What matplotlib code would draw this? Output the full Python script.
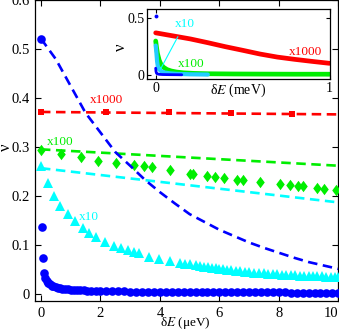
import matplotlib
matplotlib.use('Agg')
import matplotlib.pyplot as plt
from matplotlib.path import Path

plt.rcParams['font.family'] = ['Liberation Serif', 'DejaVu Serif']
plt.rcParams['mathtext.fontset'] = 'stix'

# ---------------- main panel data (delta E in ueV) ----------------
red_x = [0, 2.18, 4.31, 6.39, 8.45]
red_y = [0.372, 0.372, 0.371, 0.369, 0.368]
red_fit_x = [0, 10]
red_fit_y = [0.372, 0.367]

green_x = [0, 0.68, 1.34, 1.93, 2.54, 3.14, 3.48, 3.75, 4.34, 5.02, 5.11, 5.58,
           5.86, 6.17, 6.61, 6.79, 7.37, 8.04, 8.39, 8.66, 8.80, 9.30, 9.51, 9.91]
green_y = [0.294, 0.287, 0.280, 0.272, 0.268, 0.263, 0.261, 0.259, 0.253, 0.246,
           0.246, 0.242, 0.239, 0.237, 0.233, 0.233, 0.229, 0.225, 0.222, 0.220,
           0.220, 0.216, 0.214, 0.212]
green_fit_x = [0, 10]
green_fit_y = [0.2955, 0.262]

cyan_x = [0, 0.25, 0.44, 0.64, 0.9, 1.15, 1.41, 1.63, 1.86, 2.17, 2.44, 2.70,
          2.94, 3.14, 3.31, 3.62, 3.98, 4.35, 4.68, 4.85, 5.0, 5.2, 5.35, 5.5,
          5.62, 5.75, 5.88, 6.0, 6.12, 6.25, 6.4, 6.55, 6.7, 6.85, 7.0, 7.15,
          7.32, 7.5, 7.65, 7.8, 7.95, 8.1, 8.25, 8.4, 8.55, 8.7, 8.85, 9.0,
          9.15, 9.3, 9.45, 9.6, 9.75, 9.9, 10.0]
cyan_y = [0.262, 0.226, 0.200, 0.180, 0.163, 0.149, 0.134, 0.125, 0.116, 0.107,
          0.098, 0.094, 0.089, 0.086, 0.083, 0.076, 0.071, 0.068, 0.063, 0.061,
          0.060, 0.058, 0.057, 0.055, 0.054, 0.053, 0.052, 0.051, 0.050, 0.049,
          0.048, 0.047, 0.046, 0.045, 0.044, 0.043, 0.043, 0.042, 0.041, 0.040,
          0.040, 0.039, 0.039, 0.038, 0.038, 0.037, 0.037, 0.037, 0.036, 0.036,
          0.036, 0.035, 0.035, 0.035, 0.035]
cyan_fit_x = [0, 10]
cyan_fit_y = [0.257, 0.187]

blue_x = [0, 0.03, 0.07, 0.11, 0.15, 0.2, 0.25, 0.3, 0.36, 0.42, 0.49, 0.56,
          0.64, 0.72, 0.81, 0.9, 1.0, 1.1, 1.2, 1.32, 1.44, 1.56, 1.7, 1.85,
          2.0, 2.2, 2.4, 2.6, 2.8, 3.0, 3.2, 3.4, 3.6, 3.8, 4.0, 4.2, 4.4, 4.6,
          4.8, 5.0, 5.2, 5.4, 5.6, 5.8, 6.0, 6.2, 6.4, 6.6, 6.8, 7.0, 7.2, 7.4,
          7.6, 7.8, 8.0, 8.2, 8.4, 8.6, 8.8, 9.0, 9.2, 9.4, 9.6, 9.8, 10.0]
blue_y = [0.522, 0.136, 0.073, 0.043, 0.033, 0.027, 0.023, 0.020, 0.017, 0.015,
          0.0135, 0.012, 0.011, 0.010, 0.0095, 0.009, 0.0085, 0.008, 0.0077,
          0.0073, 0.007, 0.0067, 0.0064, 0.0061, 0.0058, 0.0055, 0.0052, 0.005,
          0.0048, 0.0046, 0.0044, 0.0042, 0.004, 0.0039, 0.0038, 0.0037, 0.0036,
          0.0035, 0.0034, 0.0033, 0.0032, 0.0032, 0.0031, 0.0031, 0.003, 0.003,
          0.003, 0.0029, 0.0029, 0.0029, 0.0028, 0.0028, 0.0028, 0.0027, 0.0027,
          0.0027, 0.0026, 0.0026, 0.0026, 0.0026, 0.0025, 0.0025, 0.0025, 0.0025,
          0.0025]
blue_fit_x = [0, 0.5, 1, 1.5, 2, 2.5, 3, 3.5, 4, 4.5, 5, 5.5, 6, 6.5, 7, 7.5,
              8, 8.5, 9, 9.5, 10]
blue_fit_y = [0.522, 0.48, 0.425, 0.37, 0.33, 0.29, 0.262, 0.233, 0.208, 0.185,
              0.163, 0.147, 0.131, 0.118, 0.105, 0.094, 0.084, 0.074, 0.065,
              0.058, 0.051]

main_xticks = [0, 2, 4, 6, 8, 10]
main_yticks = [0, 0.1, 0.2, 0.3, 0.4, 0.5, 0.6]
main_yticklabels = ['0', '0.1', '0.2', '0.3', '0.4', '0.5', '0.6']

# ---------------- inset data (delta E in meV) ----------------
in_red_x = [0, 0.1, 0.2, 0.3, 0.4, 0.5, 0.6, 0.7, 0.8, 0.9, 1.0]
in_red_y = [0.372, 0.345, 0.318, 0.285, 0.25, 0.218, 0.185, 0.158, 0.138, 0.12, 0.103]
in_green_x = [0, 0.005, 0.01, 0.02, 0.03, 0.045, 0.065, 0.09, 0.12, 0.16, 0.22,
              0.3, 0.45, 0.6, 0.8, 1.0]
in_green_y = [0.30, 0.24, 0.19, 0.13, 0.095, 0.068, 0.048, 0.035, 0.026, 0.019,
              0.014, 0.011, 0.009, 0.008, 0.007, 0.007]
in_cyan_x = [0, 0.004, 0.008, 0.012, 0.02, 0.03, 0.05, 0.08, 0.12, 0.2, 0.3]
in_cyan_y = [0.26, 0.2, 0.12, 0.08, 0.05, 0.035, 0.022, 0.015, 0.01, 0.006, 0.004]
in_blue_x = [0, 0.002, 0.005, 0.01, 0.02, 0.04, 0.08, 0.15]
in_blue_y = [0.06, 0.03, 0.015, 0.01, 0.006, 0.004, 0.003, 0.002]
in_blue_pt_x = [0]
in_blue_pt_y = [0.52]

RED = '#ff0000'
GREEN = '#00ee00'
CYAN = '#00ffff'
BLUE = '#0000ff'

fig = plt.figure(figsize=(3.39, 3.31), dpi=100)
ax = fig.add_axes([35 / 339, 1 - 301 / 331, 303.3 / 339, 301 / 331])

dash = (3.6, 2.1)
lw = 1.9

diamond = Path([(0, 1), (0.75, 0), (0, -1), (-0.75, 0), (0, 1)],
               [Path.MOVETO, Path.LINETO, Path.LINETO, Path.LINETO, Path.CLOSEPOLY])

ax.plot(blue_x, blue_y, 'o', color=BLUE, ms=6.2, mew=0, zorder=3)
ax.plot(cyan_x, cyan_y, '^', color=CYAN, ms=6.8, mew=0, zorder=3)
ax.plot(green_x, green_y, linestyle='none', marker=diamond, color=GREEN, ms=8.2, mew=0, zorder=3)
ax.plot(red_x, red_y, 's', color=RED, ms=5.0, mew=0, zorder=3)

ax.plot(red_fit_x, red_fit_y, '--', color=RED, lw=lw, dashes=dash, zorder=4)
ax.plot(green_fit_x, green_fit_y, '--', color=GREEN, lw=lw, dashes=dash, zorder=4)
ax.plot(cyan_fit_x, cyan_fit_y, '--', color=CYAN, lw=lw, dashes=dash, zorder=4)
ax.plot(blue_fit_x, blue_fit_y, '--', color=BLUE, lw=lw, dashes=dash, zorder=5)

ax.text(2.19, 0.397, 'x1000', color=RED, fontsize=9.5, ha='center', va='center')
ax.text(0.65, 0.311, 'x100', color=GREEN, fontsize=9.5, ha='center', va='center')
ax.text(1.61, 0.158, 'x10', color=CYAN, fontsize=9.5, ha='center', va='center')

ax.set_xlim(-0.2, 10.0)
ax.set_ylim(-0.0147, 0.601)
ax.set_xticks(main_xticks)
ax.set_yticks(main_yticks)
ax.set_yticklabels(main_yticklabels)
ax.tick_params(direction='in', length=4, width=0.8, labelsize=10.5, pad=4,
               top=True, right=True)
for t in ax.get_xticklabels():
    if t.get_text() == '10':
        t.set_ha('right')
for s in ax.spines.values():
    s.set_linewidth(0.9)
ax.set_xlabel('δ$E$ (μeV)', fontsize=9.5)
ax.xaxis.set_label_coords(0.495, -0.046)
ax.set_ylabel('ν', fontsize=12)
ax.yaxis.set_label_coords(-0.068, 0.51)

# ---------------- inset ----------------
ins = fig.add_axes([147 / 339, 1 - 79.3 / 331, 182.5 / 339, 70.6 / 331])
ins.set_facecolor('white')
ins.plot(in_red_x, in_red_y, '-', color=RED, lw=3.4, solid_capstyle='round')
ins.plot(in_green_x, in_green_y, '-', color=GREEN, lw=3.4, solid_capstyle='round')
ins.plot(in_cyan_x, in_cyan_y, '-', color='#22ccff', lw=3.0, solid_capstyle='round')
ins.plot(in_blue_x, in_blue_y, '-', color=BLUE, lw=2.0, solid_capstyle='round')
ins.plot(in_blue_pt_x, in_blue_pt_y, 'o', color=BLUE, ms=2.8, mew=0)
ins.annotate('x10', xy=(0.025, 0.044), xytext=(0.166, 0.448), color=CYAN,
             fontsize=9.5, ha='center', va='center',
             arrowprops=dict(arrowstyle='-', color=CYAN, lw=0.8, shrinkA=3, shrinkB=0))
ins.text(0.204, 0.099, 'x100', color=GREEN, fontsize=9.5, ha='center', va='center')
ins.text(0.861, 0.205, 'x1000', color=RED, fontsize=9.5, ha='center', va='center')
ins.set_xlim(-0.05, 1.0)
ins.set_ylim(-0.038, 0.585)
ins.set_xticks([0, 1])
ins.set_xticklabels(['0', '1'])
ins.set_yticks([0, 0.5])
ins.set_yticklabels(['0', '0.5'])
ins.tick_params(direction='in', length=3, width=0.8, labelsize=10, pad=2,
                top=True, right=True)
for s in ins.spines.values():
    s.set_linewidth(0.9)
ins.set_xlabel('δ$E$ (meV)', fontsize=10)
ins.xaxis.set_label_coords(0.5, -0.04)
ins.set_ylabel('ν', fontsize=12)
ins.yaxis.set_label_coords(-0.10, 0.46)

fig.savefig('out.png', dpi=100)
